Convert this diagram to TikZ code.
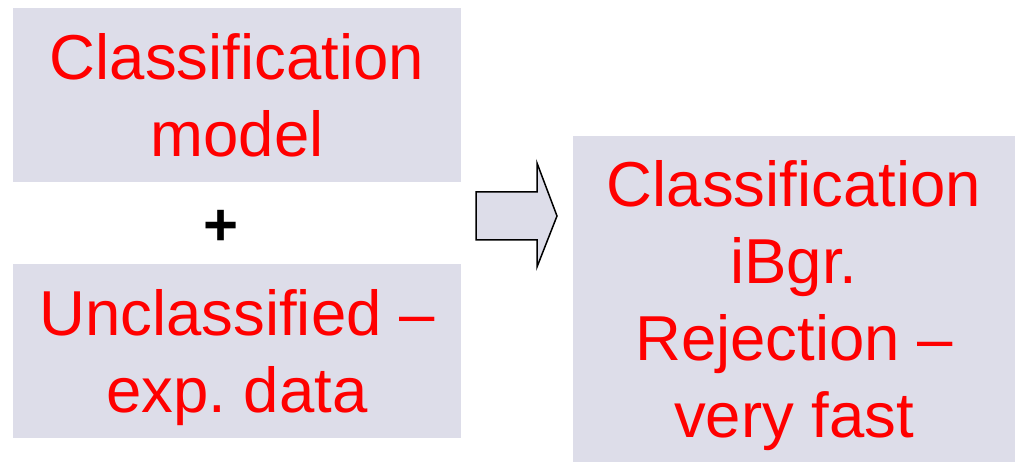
\documentclass[tikz,border=0pt]{standalone}
\usepackage{fontspec}
\setmainfont{Liberation Sans}
\frenchspacing
\definecolor{boxfill}{RGB}{221,221,233}
\definecolor{txtred}{RGB}{255,0,0}
\tikzset{
  panel/.style={rectangle, fill=boxfill, draw=none, inner sep=0pt, text=txtred,
    align=center, text depth=0pt,
    font=\fontsize{63.5}{77}\selectfont\frenchspacing},
  blockarrow/.style={fill=boxfill, draw=black, line width=1.5pt, line join=miter},
}
\begin{document}
\begin{tikzpicture}[x=1pt,y=-1pt]
\useasboundingbox (0,0) rectangle (1015,462);
\node[panel, minimum width=448pt, minimum height=174pt] (model) at (237,95)
  {Classification\\model};
\node[panel, minimum width=448pt, minimum height=174pt] (data) at (237,351)
  {Unclassified --\\exp. data};
\node[panel, minimum width=442pt, minimum height=326pt] (result) at (794,299)
  {Classification\\iBgr.\\Rejection --\\very fast};
\node[inner sep=0pt, font=\fontsize{60}{72}\selectfont\bfseries] (plus) at (221,228) {+};
\draw[blockarrow] (476,192) -- (537,192) -- (537,163) -- (557,216) -- (537,267) -- (537,240) -- (476,240) -- cycle;
\end{tikzpicture}
\end{document}
